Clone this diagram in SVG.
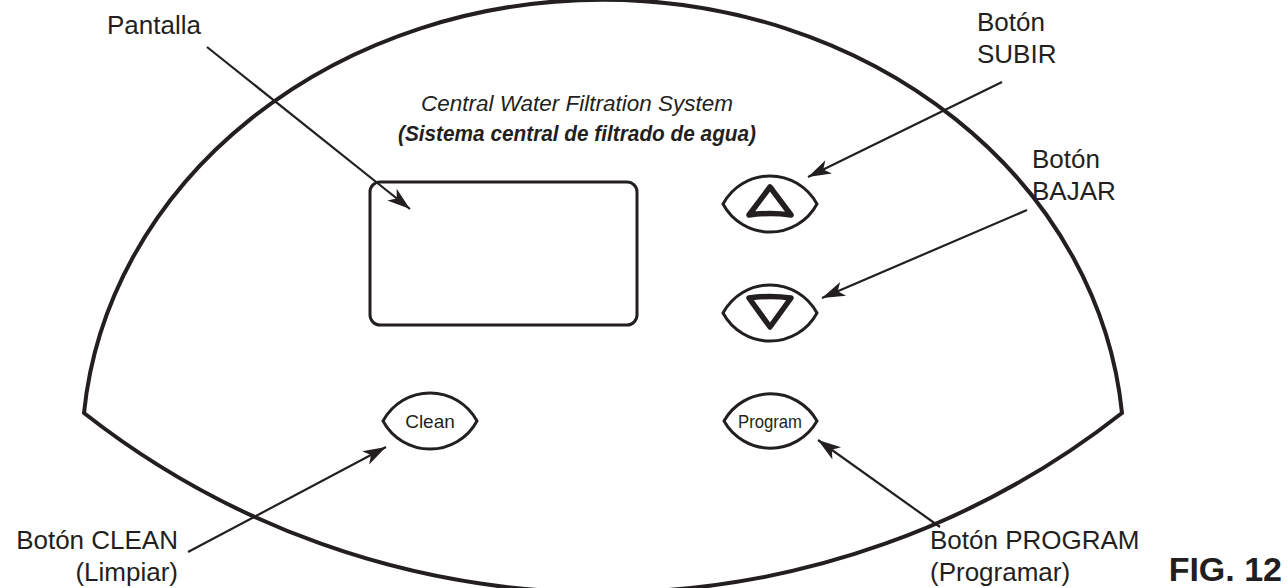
<svg xmlns="http://www.w3.org/2000/svg" width="1287" height="588" viewBox="0 0 1287 588">
<style>
.lbl{font-family:"Liberation Sans",Arial,sans-serif;font-size:26px;fill:#231f20}
.btn{fill:none;stroke:#231f20;stroke-width:3}
.tri{fill:none;stroke:#231f20;stroke-width:5.5;stroke-linejoin:round}
.ln{stroke:#231f20;stroke-width:2.2;fill:none}
.bt{font-family:"Liberation Sans",Arial,sans-serif;font-size:19px;fill:#231f20;text-anchor:middle}
</style>
<defs>
<marker id="ah" markerUnits="userSpaceOnUse" viewBox="-24 -8 26 16" markerWidth="26" markerHeight="16" refX="0" refY="0" orient="auto">
<path d="M0,0 L-23,-7.5 L-17,0 L-23,7.5 Z" fill="#231f20"/>
</marker>
</defs>
<g id="panel">
<path d="M84,413 A521 453 0 0 1 1122,413 A840 840 0 0 1 84,413 Z" fill="none" stroke="#231f20" stroke-width="4"/>
</g>
<g id="title">
<text x="577" y="111" class="lbl" style="font-size:22.5px;font-style:italic;text-anchor:middle">Central Water Filtration System</text>
<text x="577" y="141" class="lbl" style="font-size:22px;font-style:italic;font-weight:bold;text-anchor:middle" textLength="358" lengthAdjust="spacingAndGlyphs">(Sistema central de filtrado de agua)</text>
</g>
<g id="display">
<rect x="370" y="182" width="267" height="143" rx="10" fill="none" stroke="#231f20" stroke-width="3"/>
</g>
<g id="btn-up">
<path class="btn" d="M723,204 A53.4 53.4 0 0 1 817,204 A53.4 53.4 0 0 1 723,204 Z"/>
<path class="tri" d="M770,187 L791,215 Q770,212 749,215 Z"/>
</g>
<g id="btn-down">
<path class="btn" d="M723,313 A53.4 53.4 0 0 1 817,313 A53.4 53.4 0 0 1 723,313 Z"/>
<path class="tri" d="M749,298 Q770,295 791,298 L770,327 Z"/>
</g>
<g id="btn-clean">
<path class="btn" d="M383,421 A53.4 53.4 0 0 1 477,421 A53.4 53.4 0 0 1 383,421 Z"/>
<text x="430" y="428" class="bt">Clean</text>
</g>
<g id="btn-program">
<path class="btn" d="M724,421 A53.4 53.4 0 0 1 817,421 A53.4 53.4 0 0 1 724,421 Z"/>
<text x="770" y="428" class="bt" textLength="64" lengthAdjust="spacingAndGlyphs">Program</text>
</g>
<g id="labels">
<text x="107" y="34" class="lbl">Pantalla</text>
<text x="977" y="31" class="lbl">Botón</text>
<text x="977" y="63" class="lbl">SUBIR</text>
<text x="1032" y="168" class="lbl">Botón</text>
<text x="1032" y="200" class="lbl">BAJAR</text>
<text x="178" y="549" class="lbl" text-anchor="end">Botón CLEAN</text>
<text x="178" y="581" class="lbl" text-anchor="end">(Limpiar)</text>
<text x="930" y="549" class="lbl">Botón PROGRAM</text>
<text x="930" y="581" class="lbl">(Programar)</text>
<text x="1282" y="581" class="lbl" text-anchor="end" style="font-size:34px;font-weight:bold">FIG. 12</text>
</g>
<g id="connectors">
<line class="ln" x1="207" y1="47" x2="410" y2="209" marker-end="url(#ah)"/>
<line class="ln" x1="1002" y1="82" x2="808" y2="177" marker-end="url(#ah)"/>
<line class="ln" x1="1027" y1="210" x2="822" y2="298" marker-end="url(#ah)"/>
<line class="ln" x1="188" y1="552" x2="386" y2="447" marker-end="url(#ah)"/>
<line class="ln" x1="940" y1="527" x2="818" y2="440" marker-end="url(#ah)"/>
</g>
</svg>
